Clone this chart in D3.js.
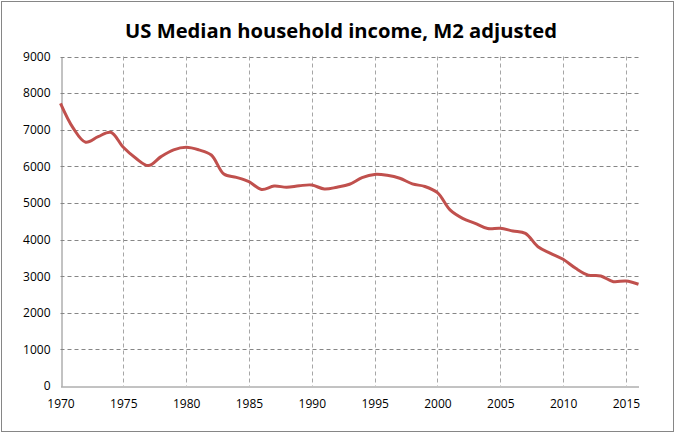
<!DOCTYPE html>
<html>
<head>
<meta charset="utf-8">
<script src="https://cdn.jsdelivr.net/npm/d3@7"></script>
<style>
  body { margin: 0; background: #fff; }
  text { font-family: "Open Sans", "Liberation Sans", sans-serif; }
</style>
</head>
<body>
<div id="chart"></div>
<script>
const years = [1970, 1971, 1972, 1973, 1974, 1975, 1976, 1977, 1978, 1979,
  1980, 1981, 1982, 1983, 1984, 1985, 1986, 1987, 1988, 1989,
  1990, 1991, 1992, 1993, 1994, 1995, 1996, 1997, 1998, 1999,
  2000, 2001, 2002, 2003, 2004, 2005, 2006, 2007, 2008, 2009,
  2010, 2011, 2012, 2013, 2014, 2015, 2016];
const income = [7720, 7050, 6660, 6810, 6930, 6520, 6220, 6020, 6265, 6450,
  6520, 6450, 6310, 5790, 5700, 5580, 5370, 5460, 5430, 5470,
  5490, 5380, 5430, 5510, 5690, 5780, 5755, 5675, 5520, 5450,
  5280, 4810, 4580, 4445, 4300, 4310, 4235, 4170, 3805, 3625,
  3460, 3215, 3030, 3005, 2850, 2870, 2780];
const xTicks = [1970, 1975, 1980, 1985, 1990, 1995, 2000, 2005, 2010, 2015];
const yTicks = [0, 1000, 2000, 3000, 4000, 5000, 6000, 7000, 8000, 9000];
const title = 'US Median household income, M2 adjusted';

const WIDTH = 676;
const HEIGHT = 434;
const margin = { top: 56.5, right: 37.5, bottom: 48, left: 60.5 };

const svg = d3.select('#chart')
  .append('svg')
  .attr('width', WIDTH)
  .attr('height', HEIGHT);

// outer chart frame
svg.append('rect')
  .attr('x', 1.5).attr('y', 1.5)
  .attr('width', 672).attr('height', 430)
  .attr('fill', '#fff')
  .attr('stroke', '#868686')
  .attr('stroke-width', 1);

const x = d3.scaleLinear()
  .domain([1970, 2016])
  .range([margin.left, WIDTH - margin.right]);

const y = d3.scaleLinear()
  .domain([0, 9000])
  .range([HEIGHT - margin.bottom, margin.top]);

// horizontal grid
svg.append('g')
  .selectAll('line')
  .data(yTicks.filter((d) => d > 0))
  .join('line')
  .attr('x1', x(1970)).attr('x2', x(2016))
  .attr('y1', (d) => Math.round(y(d)) + 0.5)
  .attr('y2', (d) => Math.round(y(d)) + 0.5)
  .attr('stroke', '#868686')
  .attr('stroke-dasharray', '4,3');

// vertical grid
svg.append('g')
  .selectAll('line')
  .data(xTicks.filter((d) => d > 1970))
  .join('line')
  .attr('x1', (d) => Math.round(x(d)) + 0.5)
  .attr('x2', (d) => Math.round(x(d)) + 0.5)
  .attr('y1', y(9000)).attr('y2', y(0))
  .attr('stroke', '#a6a6a6')
  .attr('stroke-dasharray', '4,3');

// axes
const xAxis = svg.append('g')
  .attr('transform', `translate(0, ${Math.round(y(0)) + 0.5})`)
  .call(d3.axisBottom(x).tickValues(xTicks).tickFormat(d3.format('d')).tickSize(0).tickPadding(13));

const yAxis = svg.append('g')
  .attr('transform', `translate(${Math.round(x(1970)) + 0.5}, 0)`)
  .call(d3.axisLeft(y).tickValues(yTicks).tickFormat(d3.format('d')).tickSize(0).tickPadding(11));

[xAxis, yAxis].forEach((axis) => {
  axis.select('.domain').attr('stroke', '#868686');
  axis.selectAll('text')
    .attr('fill', '#000')
    .style('font-size', '12px');
});

// income line
const line = d3.line()
  .x((d, i) => x(years[i]))
  .y((d) => y(d))
  .curve(d3.curveCatmullRom.alpha(0.5));

svg.append('path')
  .datum(income)
  .attr('fill', 'none')
  .attr('stroke', '#C0504D')
  .attr('stroke-width', 3)
  .attr('stroke-linejoin', 'round')
  .attr('d', line);

// title, fitted to the reference width
const titleText = svg.append('text')
  .attr('x', 341)
  .attr('y', 38)
  .attr('text-anchor', 'middle')
  .style('font-weight', 'bold')
  .style('font-size', '21px')
  .text(title);

const titleWidth = titleText.node().getComputedTextLength();
titleText.style('font-size', `${(21 * 432) / titleWidth}px`);
</script>
</body>
</html>
